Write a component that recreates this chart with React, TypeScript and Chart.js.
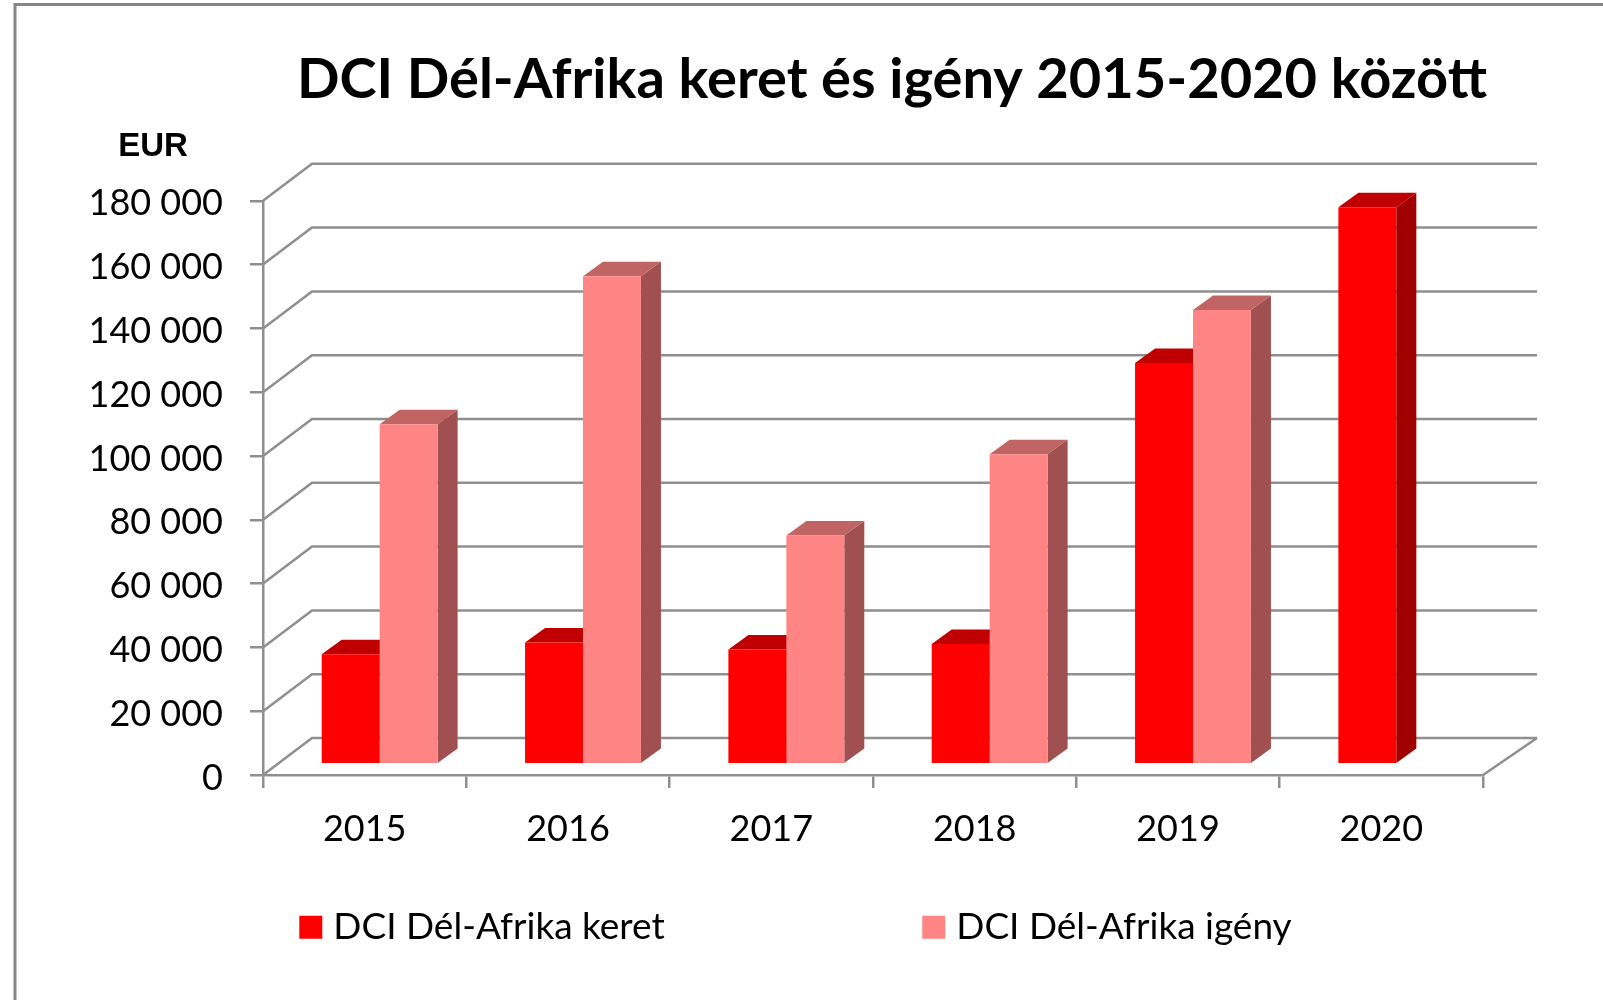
import React, { useEffect, useRef } from "react";
import { Chart, registerables } from "chart.js";

Chart.register(...registerables);

const categories = ["2015", "2016", "2017", "2018", "2019", "2020"];
const keretValues = [34500, 38200, 36000, 37700, 125800, 174600];
const igenyValues = [106600, 153000, 71700, 97200, 142400, null];
const keretLabel = "DCI Dél-Afrika keret";
const igenyLabel = "DCI Dél-Afrika igény";
const titleText = "DCI Dél-Afrika keret és igény 2015-2020 között";
const unitText = "EUR";

const GRID = "#8f8f8f";
const FRAME = "#868686";

const faces: Record<string, { top: string; side: string }> = {
  "#ff0000": { top: "#c00000", side: "#a00000" },
  "#ff8585": { top: "#c06464", side: "#a05050" },
};

const formatTick = (v: number) => String(v).replace(/\B(?=(\d{3})+(?!\d))/g, " ");

const BAR_SHIFT_X = 15;
const BAR_SHIFT_Y = -10.7;

const chart3d = {
  id: "chart3d",
  afterLayout(chart: any) {
    const t = chart.titleBlock;
    t.left = 181;
    t.right = 1603;
    const l = chart.legend;
    l.left = 306.8 - l.options.labels.padding;
    l.right = 1603;
    l.top = 908.7 - l.options.labels.padding;
  },
  beforeDraw(chart: any) {
    const { ctx } = chart;
    ctx.save();
    ctx.strokeStyle = FRAME;
    ctx.lineWidth = 3;
    ctx.beginPath();
    ctx.moveTo(15, 1000);
    ctx.lineTo(15, 4.5);
    ctx.lineTo(1603, 4.5);
    ctx.stroke();
    ctx.font = "bold 33px 'Liberation Sans'";
    ctx.fillStyle = "#000";
    ctx.textAlign = "center";
    ctx.textBaseline = "alphabetic";
    ctx.fillText(unitText, 153, 156);
    ctx.restore();
  },
  beforeDatasetsDraw(chart: any) {
    const { ctx, scales, chartArea } = chart;
    const y = scales.y;
    ctx.save();
    ctx.strokeStyle = GRID;
    ctx.lineWidth = 2.5;
    ctx.beginPath();
    for (const tick of y.ticks) {
      const py = y.getPixelForValue(tick.value);
      ctx.moveTo(chartArea.left, py);
      ctx.lineTo(chartArea.left + 49, py - 37);
      ctx.lineTo(chartArea.right + 54, py - 37);
    }
    ctx.moveTo(chartArea.right, chartArea.bottom);
    ctx.lineTo(chartArea.right + 54, chartArea.bottom - 37);
    ctx.stroke();

    // depth faces of every bar, keret first so igény covers them
    ctx.translate(BAR_SHIFT_X, BAR_SHIFT_Y);
    const dx = 20;
    const dy = 14.5;
    chart.data.datasets.forEach((ds: any, i: number) => {
      const f = faces[ds.backgroundColor];
      for (const el of chart.getDatasetMeta(i).data) {
        if (el.skip || !Number.isFinite(el.y) || el.y === el.base) continue;
        const x0 = el.x - el.width / 2;
        const x1 = el.x + el.width / 2;
        ctx.fillStyle = f.top;
        ctx.beginPath();
        ctx.moveTo(x0, el.y);
        ctx.lineTo(x0 + dx, el.y - dy);
        ctx.lineTo(x1 + dx, el.y - dy);
        ctx.lineTo(x1, el.y);
        ctx.closePath();
        ctx.fill();
        ctx.fillStyle = f.side;
        ctx.beginPath();
        ctx.moveTo(x1, el.y);
        ctx.lineTo(x1 + dx, el.y - dy);
        ctx.lineTo(x1 + dx, el.base - dy);
        ctx.lineTo(x1, el.base);
        ctx.closePath();
        ctx.fill();
      }
    });
    ctx.restore();
  },
  beforeDatasetDraw(chart: any) {
    chart.ctx.save();
    chart.ctx.translate(BAR_SHIFT_X, BAR_SHIFT_Y);
  },
  afterDatasetDraw(chart: any) {
    chart.ctx.restore();
  },
};

export default function App() {
  const ref = useRef<HTMLCanvasElement>(null);
  useEffect(() => {
    const chart = new Chart(ref.current as HTMLCanvasElement, {
      type: "bar",
      data: {
        labels: categories,
        datasets: [
          { label: keretLabel, data: keretValues, backgroundColor: "#ff0000", clip: false, categoryPercentage: 0.57, barPercentage: 1 },
          { label: igenyLabel, data: igenyValues, backgroundColor: "#ff8585", clip: false, categoryPercentage: 0.57, barPercentage: 1 },
        ],
      } as any,
      options: {
        responsive: false,
        animation: false,
        layout: { padding: { left: 0, right: 120, top: 0, bottom: 0 } },
        scales: {
          x: {
            afterFit: (s: any) => { s.height = 165; },
            grid: { drawOnChartArea: false, color: GRID, lineWidth: 2.5, tickLength: 13 },
            border: { color: GRID, width: 2.5 },
            ticks: { color: "#000", font: { family: "Lato", size: 36 }, padding: 20, maxRotation: 0, autoSkip: false },
          },
          y: {
            min: 0,
            max: 180000,
            afterFit: (s: any) => { s.width = 263; },
            grid: { drawOnChartArea: false, color: GRID, lineWidth: 2.5, tickLength: 13 },
            border: { color: GRID, width: 2.5 },
            ticks: { stepSize: 20000, color: "#000", font: { family: "Lato", size: 36 }, padding: 27, labelOffset: 3, callback: (v: any) => formatTick(Number(v)) },
          },
        },
        plugins: {
          tooltip: { enabled: false },
          title: {
            display: true,
            text: titleText,
            color: "#000",
            font: { family: "Lato", size: 56, weight: "bold" },
            padding: { top: 46, bottom: 87.6 },
          },
          legend: {
            position: "bottom",
            align: "start",
            maxHeight: 60,
            labels: {
              color: "#000",
              font: { family: "Lato", size: 37 },
              boxWidth: 8,
              boxHeight: 8,
              padding: 265,
              generateLabels: (c: any) =>
                Chart.defaults.plugins.legend.labels.generateLabels(c).map((item: any) => ({
                  ...item,
                  lineWidth: 15,
                  strokeStyle: item.fillStyle,
                })),
            },
          },
        },
      } as any,
      plugins: [chart3d],
    });
    return () => chart.destroy();
  }, []);
  return (
    <div style={{ position: "absolute", left: 0, top: 0, width: 1603, height: 1000, background: "#fff" }}>
      <canvas ref={ref} width={1603} height={1000} style={{ display: "block" }} />
    </div>
  );
}
